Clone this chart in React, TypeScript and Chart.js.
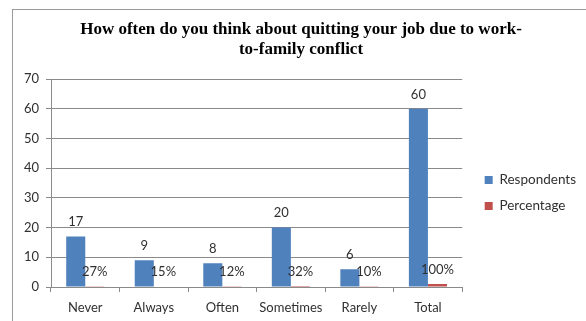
import React, { useEffect, useRef } from "react";
import { Chart, registerables } from "chart.js";

Chart.register(...registerables);

const categories = ["Never", "Always", "Often", "Sometimes", "Rarely", "Total"];
const respondents = [17, 9, 8, 20, 6, 60];
const percentage = [0.27, 0.15, 0.12, 0.32, 0.1, 1.0];
const yTicks = [0, 10, 20, 30, 40, 50, 60, 70];
const titleLines = [
  "How often do you think about quitting your job due to work-",
  "to-family conflict",
];

const AXIS_GRAY = "#8a8a8a";
const TEXT = "#303030";
const FONT = "Lato";

const barLabels = {
  id: "barLabels",
  afterDatasetsDraw(chart: any) {
    const ctx = chart.ctx;
    ctx.save();
    ctx.font = `13px ${FONT}`;
    ctx.fillStyle = TEXT;
    ctx.textAlign = "center";
    ctx.textBaseline = "middle";
    chart.data.datasets.forEach((ds: any, i: number) => {
      const meta = chart.getDatasetMeta(i);
      meta.data.forEach((bar: any, j: number) => {
        const v = ds.data[j] as number;
        const text = i === 0 ? String(v) : `${Math.round(v * 100)}%`;
        ctx.fillText(text, bar.x, bar.y - 14.5);
      });
    });
    ctx.restore();
  },
};

export default function App() {
  const ref = useRef<HTMLCanvasElement | null>(null);

  useEffect(() => {
    if (!ref.current) return;
    const chart = new Chart(ref.current, {
      type: "bar",
      data: {
        labels: categories,
        datasets: [
          {
            label: "Respondents",
            data: respondents,
            backgroundColor: "#4F81BD",
            barPercentage: 1,
            categoryPercentage: 0.556,
          },
          {
            label: "Percentage",
            data: percentage,
            backgroundColor: "#C0504D",
            barPercentage: 1,
            categoryPercentage: 0.556,
          },
        ],
      },
      options: {
        responsive: false,
        animation: false,
        layout: { padding: { left: 16, right: 0, top: 0, bottom: 0 } },
        plugins: {
          title: {
            display: true,
            text: titleLines,
            color: "#000",
            font: { family: "Liberation Serif", size: 17, weight: "bold", lineHeight: 1.18 },
            padding: { top: 20, bottom: 19 },
          },
          legend: {
            display: true,
            position: "right",
            fullSize: false,
            maxWidth: 140,
            title: { display: true, text: " ", font: { size: 10, lineHeight: 1 }, padding: { top: 5, bottom: 5 } },
            labels: {
              boxWidth: 8,
              boxHeight: 8,
              padding: 12.5,
              color: TEXT,
              font: { family: FONT, size: 13.5 },
            },
          },
          tooltip: { enabled: false },
        },
        scales: {
          x: {
            grid: {
              offset: true,
              drawOnChartArea: false,
              drawTicks: true,
              tickLength: 5,
              color: AXIS_GRAY,
            },
            border: { display: true, color: AXIS_GRAY, width: 1 },
            ticks: { color: TEXT, font: { family: FONT, size: 13 }, padding: 8, maxRotation: 0 },
            afterFit: (s: any) => {
              s.height = 34;
            },
          },
          y: {
            min: 0,
            max: 70,
            afterBuildTicks: (s: any) => {
              s.ticks = yTicks.map((v) => ({ value: v }));
            },
            grid: { color: AXIS_GRAY, tickLength: 5, drawTicks: true },
            border: { display: true, color: AXIS_GRAY, width: 1 },
            ticks: { color: TEXT, font: { family: FONT, size: 13 }, padding: 7 },
            afterFit: (s: any) => {
              s.width = 35;
            },
          },
          gap: {
            type: "linear",
            position: "right",
            display: true,
            grid: { display: false },
            border: { display: false },
            ticks: { display: false },
            afterFit: (s: any) => {
              s.width = 10;
            },
          },
        },
      },
      plugins: [barLabels],
    } as any);
    return () => chart.destroy();
  }, []);

  return (
    <div style={{ position: "absolute", left: 0, top: 0, width: 586, height: 321, background: "#fff" }}>
      <div
        style={{
          position: "absolute",
          left: 12,
          top: 9,
          right: 0,
          bottom: 0,
          borderLeft: "1.5px solid #9a9a9a",
          borderTop: "1.5px solid #9a9a9a",
        }}
      />
      <canvas ref={ref} width={586} height={321} style={{ position: "absolute", left: 0, top: 0 }} />
    </div>
  );
}
